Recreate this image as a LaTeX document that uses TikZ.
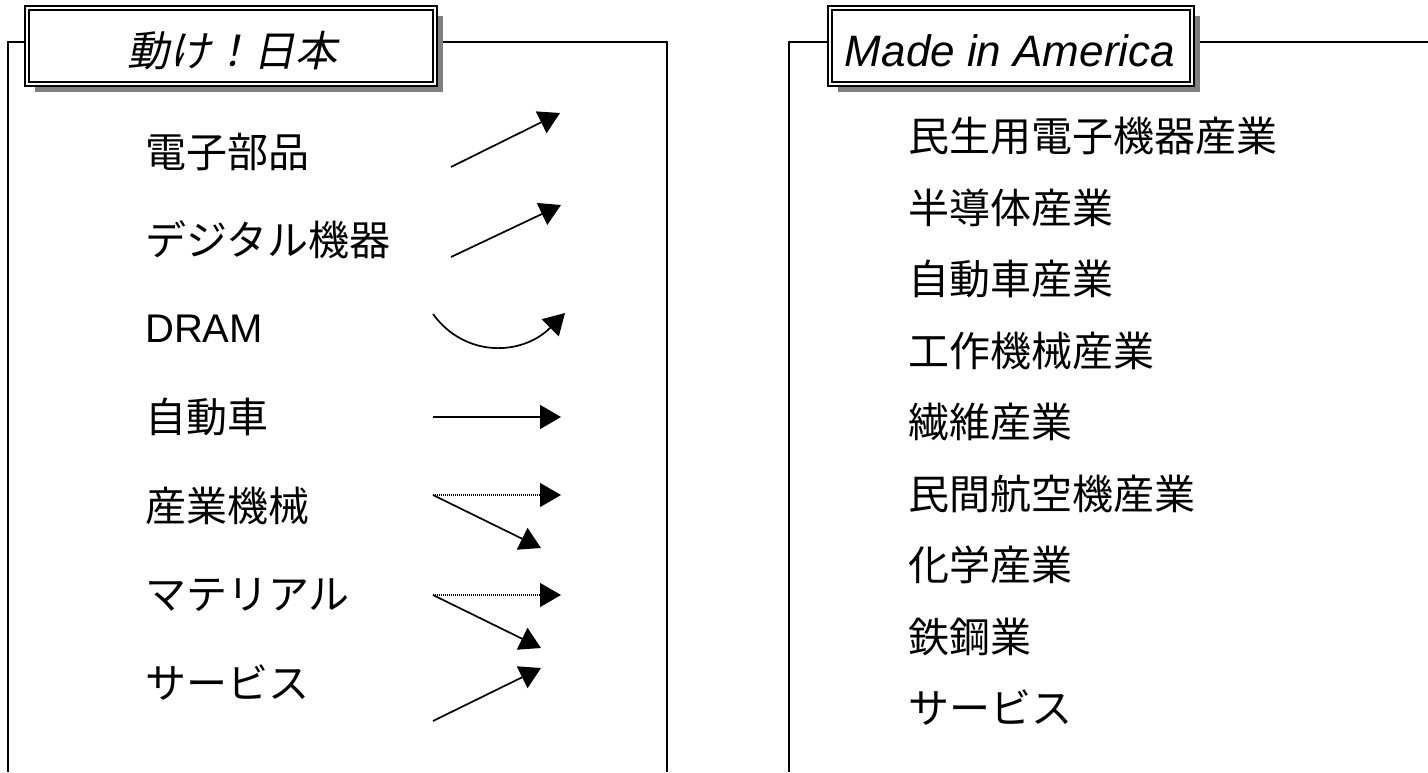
\documentclass[tikz,border=0pt]{standalone}
\usepackage{fontspec}
\newfontfamily\jp{Noto Sans CJK JP}
\newfontfamily\jpsl[FakeSlant=0.2]{Noto Sans CJK JP}
\newfontfamily\arialf{Liberation Sans}
\usetikzlibrary{arrows.meta,shadows}
\begin{document}
\begin{tikzpicture}[x=1pt,y=-1pt,
  panel/.style={line width=1.8pt, line join=miter},
  titlebox/.style={draw=black, fill=white, line width=1.7pt, double=white, double distance=2.4pt,
    inner sep=0pt, minimum height=76pt,
    drop shadow={shadow xshift=8pt, shadow yshift=-8pt, fill=black!50, opacity=1}},
  titletext/.style={inner sep=0pt},
  item/.style={anchor=west, inner sep=0pt, font=\jp\fontsize{41}{49}\selectfont},
  trend/.style={line width=1.7pt, -{Triangle[length=21pt,width=24pt]}},
  weak/.style={line width=1.2pt, dash pattern=on 1pt off 1pt, -{Triangle[length=21pt,width=24pt]}}]
\useasboundingbox (0,0) rectangle (1428,772);

% panels
\draw[panel] (8,772) -- (8,42) -- (667,42) -- (667,772);
\draw[panel] (789,772) -- (789,42) -- (1428,42);

% title boxes
\node[titlebox, minimum width=408pt] (t1) at (231,46) {};
\node[titletext, font=\jpsl\fontsize{42}{50}\selectfont] (t1text) at (232,51) {動け！日本};
\node[titlebox, minimum width=362pt] (t2) at (1011,46) {};
\node[titletext, font=\arialf\itshape\fontsize{44}{52}\selectfont] (t2text) at (1010,51) {Made in America};

% left items
\node[item] (l1) at (145,152) {電子部品};
\node[item] (l2) at (145,240) {デジタル機器};
\node[item, font=\arialf\fontsize{40}{48}\selectfont] (l3) at (145,329) {DRAM};
\node[item] (l4) at (145,417) {自動車};
\node[item] (l5) at (145,506) {産業機械};
\node[item] (l6) at (145,595) {マテリアル};
\node[item] (l7) at (145,683) {サービス};

% trend arrows
\coordinate (a1s) at (451,167); \coordinate (a1e) at (560,113);
\coordinate (a2s) at (451,257); \coordinate (a2e) at (561,205);
\coordinate (a3s) at (433,314); \coordinate (a3e) at (565,313);
\coordinate (a4s) at (433,417); \coordinate (a4e) at (561,417);
\coordinate (a5s) at (433,495); \coordinate (a5e) at (561,495); \coordinate (a5f) at (541,548);
\coordinate (a6s) at (433,595); \coordinate (a6e) at (561,595); \coordinate (a6f) at (541,648);
\coordinate (a7s) at (433,721); \coordinate (a7e) at (541,668);

\draw[trend] (a1s) -- (a1e);
\draw[trend] (a2s) -- (a2e);
\draw[trend] (a3s) .. controls (465,358) and (522,356) .. (a3e);
\draw[trend] (a4s) -- (a4e);
\draw[weak] (a5s) -- (a5e);
\draw[trend] (a5s) -- (a5f);
\draw[weak] (a6s) -- (a6e);
\draw[trend] (a6s) -- (a6f);
\draw[trend] (a7s) -- (a7e);

% right items
\node[item] (r1) at (908,136) {民生用電子機器産業};
\node[item] (r2) at (908,207.5) {半導体産業};
\node[item] (r3) at (908,279) {自動車産業};
\node[item] (r4) at (908,350.5) {工作機械産業};
\node[item] (r5) at (908,422) {繊維産業};
\node[item] (r6) at (908,493.5) {民間航空機産業};
\node[item] (r7) at (908,565) {化学産業};
\node[item] (r8) at (908,636.5) {鉄鋼業};
\node[item] (r9) at (908,708) {サービス};
\end{tikzpicture}
\end{document}
